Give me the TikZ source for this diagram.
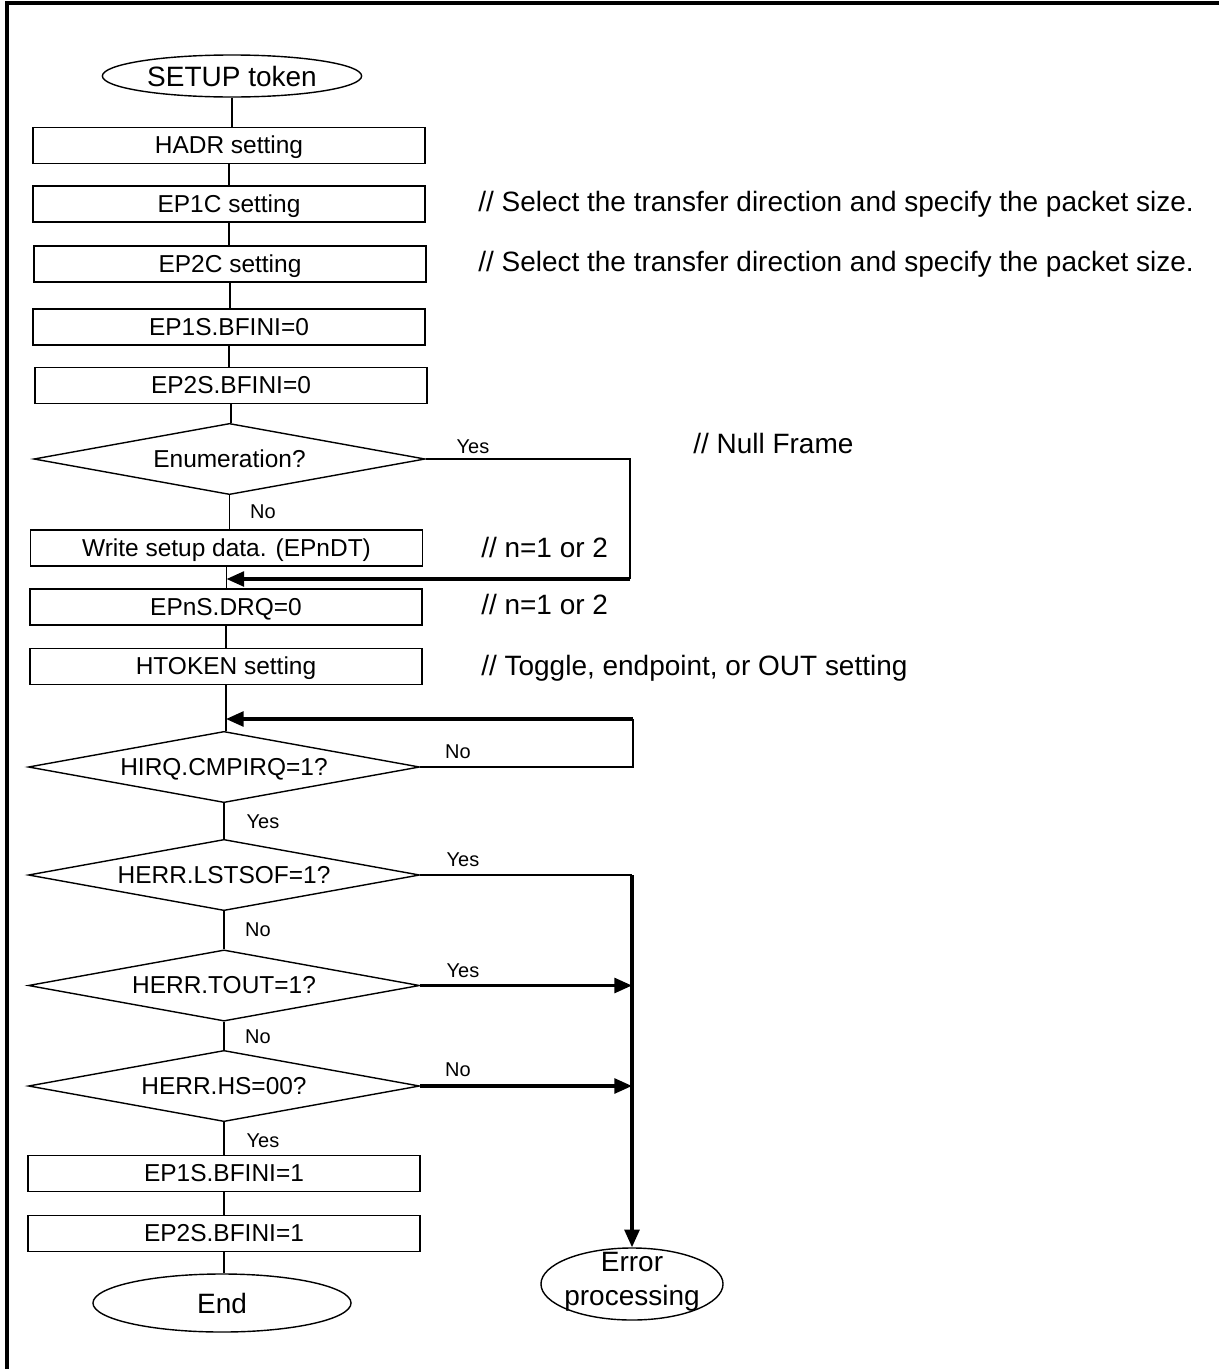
\documentclass[tikz,border=0pt]{standalone}
\usepackage{fontspec}
\setmainfont{Liberation Sans}
\usetikzlibrary{arrows.meta,positioning,shapes.geometric}
\tikzset{
  box/.style ={draw,line width=1pt,minimum width=9.8cm,minimum height=.9cm,
               inner sep=1pt,text height=11.5pt,text depth=0pt,
               font=\fontsize{17.4}{20}\selectfont},
  dec/.style ={diamond,draw,line width=1pt,minimum width=9.78cm,
               minimum height=1.78cm,aspect=5.5,inner sep=1pt,
               text height=11.5pt,text depth=0pt,
               font=\fontsize{17.4}{20}\selectfont},
  term/.style={ellipse,draw,line width=1pt,inner sep=0pt,
               font=\fontsize{19.9}{24.2}\selectfont},
  ln/.style  ={line width=1pt},
  ar/.style  ={-{Triangle[length=.44cm,width=.37cm]},line width=2.3pt},
  lbl/.style ={font=\fontsize{14.2}{17}\selectfont,inner sep=0pt},
  cmt/.style ={font=\fontsize{19.9}{24}\selectfont,anchor=west,inner sep=0pt,
               text height=14pt,text depth=4pt},
}
\begin{document}
\begin{tikzpicture}[x=.025cm,y=-.025cm]
  \useasboundingbox (0,0) rectangle (1219,1369);
  \draw[line width=2.4pt] (7,1369) -- (7,3) -- (1219,3);
  % main column
  \node[term,minimum width=6.48cm,minimum height=1.05cm] (setup) at (232,76) {SETUP token};
  \node[box] (hadr) at (229,145.5) {HADR setting};
  \node[box] (ep1c) at (229,204) {EP1C setting};
  \node[box] (ep2c) at (230,264) {EP2C setting};
  \node[box] (ep1s) at (229,327) {EP1S.BFINI=0};
  \node[box] (ep2s) at (231,385.5) {EP2S.BFINI=0};
  \node[dec] (enum) at (229.5,459) {Enumeration?};
  \node[box] (wr)   at (226.5,548) {Write setup data. (EPnDT)};
  \node[box] (drq)  at (226,607) {EPnS.DRQ=0};
  \node[box] (htok) at (226,666.5) {HTOKEN setting};
  \node[dec] (cmp)  at (224,767) {HIRQ.CMPIRQ=1?};
  \node[dec] (sof)  at (224,875) {HERR.LSTSOF=1?};
  \node[dec] (tout) at (224,985.5) {HERR.TOUT=1?};
  \node[dec] (hs)   at (224,1086) {HERR.HS=00?};
  \node[box] (ep1f) at (224,1173.5) {EP1S.BFINI=1};
  \node[box] (ep2f) at (224,1233.5) {EP2S.BFINI=1};
  \node[term,minimum width=6.45cm,minimum height=1.45cm] (fin) at (222,1303) {End};
  \node[term,minimum width=4.55cm,minimum height=1.8cm] (err) at (632,1284) {};
  \node[font=\fontsize{19.9}{24.2}\selectfont,align=center,inner sep=0pt]
       (errtxt) at (632,1282) {Error\\processing};
  \foreach \a/\b in {setup/hadr,hadr/ep1c,ep1c/ep2c,ep2c/ep1s,ep1s/ep2s,
                     ep2s/enum,enum/wr,wr/drq,drq/htok,htok/cmp,cmp/sof,
                     sof/tout,tout/hs,hs/ep1f,ep1f/ep2f,ep2f/fin}
    \draw[ln] (\a.south) -- (\a.south |- \b.north);
  % enumeration skip
  \coordinate (enumR) at (630,459);
  \coordinate (enumB) at (630,579);
  \draw[ln] (enum.east) -- (enumR) -- (enumB);
  \draw[ar] (enumB) -- (enumB -| wr.south);
  % wait loop
  \coordinate (cmpR) at (633,767);
  \coordinate (cmpT) at (633,719);
  \draw[ln] (cmp.east) -- (cmpR) -- (cmpT);
  \draw[ar] (cmpT) -- (cmpT -| htok.south);
  % error branch
  \coordinate (sofR) at (632,875);
  \draw[ln] (sof.east) -- (sofR);
  \draw[ar] (sofR) -- (err.north);
  \draw[ar] (tout.east) -- (tout.east -| err.north);
  \draw[ar] (hs.east) -- (hs.east -| err.north);
  % branch labels
  \node[lbl] (enumY) at (473,447) {Yes};
  \node[lbl] (enumN) at (263,512) {No};
  \node[lbl] (cmpN)  at (458,752) {No};
  \node[lbl] (cmpY)  at (263,822) {Yes};
  \node[lbl] (sofY)  at (463,860) {Yes};
  \node[lbl] (sofN)  at (258,930) {No};
  \node[lbl] (toutY) at (463,971) {Yes};
  \node[lbl] (toutN) at (258,1037) {No};
  \node[lbl] (hsN)   at (458,1070) {No};
  \node[lbl] (hsY)   at (263,1141) {Yes};
  % comments
  \node[cmt] (c1) at (478,204) {// Select the transfer direction and specify the packet size.};
  \node[cmt] (c2) at (478,264) {// Select the transfer direction and specify the packet size.};
  \node[cmt] (c3) at (693,446) {// Null Frame};
  \node[cmt] (c4) at (481,550) {// n=1 or 2};
  \node[cmt] (c5) at (481,607) {// n=1 or 2};
  \node[cmt] (c6) at (481,668) {// Toggle, endpoint, or OUT setting};
\end{tikzpicture}
\end{document}
